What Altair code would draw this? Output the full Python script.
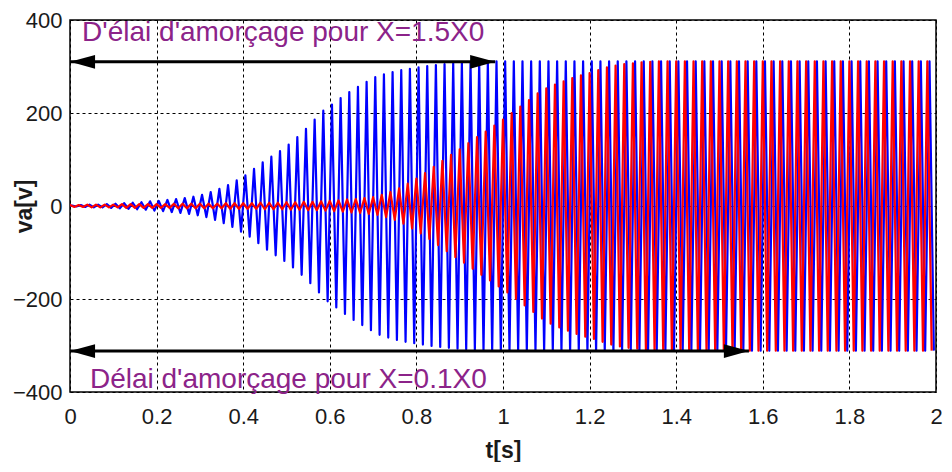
import altair as alt
import pandas as pd

# Peak amplitude of each 50 Hz cycle (100 cycles over 0..2 s)
blue_amp = [1, 2, 3, 3, 4, 5, 6, 7, 8, 10,
            11, 13, 15, 17, 20, 24, 30, 37, 45, 55,
            66, 80, 94, 106, 118, 132, 148, 166, 186, 205,
            218, 232, 245, 256, 267, 277, 283, 288, 292, 295,
            298, 301, 303, 305, 307, 308, 309, 310, 311, 311,
            311, 311, 311, 311, 311, 311, 311, 311, 311, 311,
            311, 311, 311, 311, 311, 311, 311, 311, 311, 311,
            311, 311, 311, 311, 311, 311, 311, 311, 311, 311,
            311, 311, 311, 311, 311, 311, 311, 311, 311, 311,
            311, 311, 311, 311, 311, 311, 311, 311, 311, 311]

red_amp = [2, 2, 3, 3, 3, 3, 4, 4, 4, 4,
           4, 4, 5, 5, 5, 5, 5, 5, 6, 6,
           6, 6, 7, 7, 7, 8, 8, 9, 9, 10,
           11, 12, 14, 15, 17, 19, 24, 30, 38, 48,
           59, 71, 84, 97, 110, 122, 135, 148, 160, 173,
           186, 200, 214, 228, 242, 253, 261, 268, 275, 281,
           286, 292, 298, 302, 305, 307, 309, 310, 311, 311,
           311, 311, 311, 311, 311, 311, 311, 311, 311, 311,
           311, 311, 311, 311, 311, 311, 311, 311, 311, 311,
           311, 311, 311, 311, 311, 311, 311, 311, 311, 311]

CYCLE = 0.02  # 50 Hz
blue_phase = 0.005
red_phase = 0.0

x_ticks = [0, 0.2, 0.4, 0.6, 0.8, 1, 1.2, 1.4, 1.6, 1.8, 2]
y_ticks = [-400, -200, 0, 200, 400]

arrow_y = [310, -312]
arrow_x_end = [0.982, 1.568]
label_texts = ["D'élai d'amorçage pour X=1.5X0", "Délai d'amorçage pour X=0.1X0"]
label_x = [0.028, 0.046]
label_y = [372, -374]


def zigzag(amps, phase):
    rows = [{"t": 0.0, "v": 0.0, "i": 0}]
    i = 1
    for k, a in enumerate(amps):
        rows.append({"t": k * CYCLE + phase, "v": a, "i": i}); i += 1
        rows.append({"t": k * CYCLE + CYCLE / 2 + phase, "v": -a, "i": i}); i += 1
    return pd.DataFrame(rows)


blue_df = zigzag(blue_amp, blue_phase)
red_df = zigzag(red_amp, red_phase)

xs = alt.Scale(domain=[0, 2], nice=False, zero=False)
ys = alt.Scale(domain=[-400, 400], nice=False, zero=False)

x_enc = alt.X("t:Q", scale=xs, axis=alt.Axis(values=x_ticks, title="t[s]", labelExpr="datum.value"))
y_enc = alt.Y("v:Q", scale=ys, axis=alt.Axis(values=y_ticks, title="va[v]", titleX=-46, titleY=186,
                                              titleAngle=270, titleAlign="center", titleBaseline="middle"))

blue = alt.Chart(blue_df).mark_line(color="#0000ff", strokeWidth=2.2, strokeJoin="round", clip=True).encode(
    x=x_enc, y=y_enc, order="i:Q")
red = alt.Chart(red_df).mark_line(color="#ff0000", strokeWidth=2.2, strokeJoin="round", clip=True).encode(
    x="t:Q", y="v:Q", order="i:Q")

arrows_df = pd.DataFrame({"x0": [0, 0], "x1": arrow_x_end, "y": arrow_y})
arrow_lines = alt.Chart(arrows_df).mark_rule(color="black", strokeWidth=3).encode(
    x="x0:Q", x2="x1:Q", y="y:Q")

left_heads = pd.DataFrame({"x": [0.029, 0.029], "y": arrow_y})
right_heads = pd.DataFrame({"x": [e - 0.029 for e in arrow_x_end], "y": arrow_y})
lh = alt.Chart(left_heads).mark_point(shape="M-1,0 L1,-0.55 L1,0.55 Z", size=625, filled=True,
                                       color="black", opacity=1).encode(x="x:Q", y="y:Q")
rh = alt.Chart(right_heads).mark_point(shape="M1,0 L-1,-0.55 L-1,0.55 Z", size=625, filled=True,
                                        color="black", opacity=1).encode(x="x:Q", y="y:Q")

labels_df = pd.DataFrame({"x": label_x, "y": label_y, "txt": label_texts})
labels = alt.Chart(labels_df).mark_text(align="left", baseline="middle", fontSize=28,
                                         font="Liberation Sans", color="#8c2389").encode(
    x="x:Q", y="y:Q", text="txt:N")

chart = alt.layer(blue, red, arrow_lines, lh, rh, labels).properties(
    width=866, height=372,
    autosize=alt.AutoSizeParams(type="none"),
    padding={"left": 62, "top": 12, "right": 8, "bottom": 70},
).configure_view(stroke="black", strokeWidth=1.5).configure_axis(
    grid=True, gridColor="black", gridDash=[3, 3], gridWidth=1, gridOpacity=1,
    domain=False, ticks=False, labelFont="Liberation Sans", labelColor="#1a1a1a",
    labelFontSize=22, labelFlush=False, titleFont="Liberation Sans", titleFontSize=23,
    titleFontWeight="bold", titleColor="#1a1a1a", zindex=1,
).configure_axisX(labelPadding=14, titlePadding=12).configure_axisY(labelPadding=8)

chart.save("out.html", embed_options={"renderer": "svg", "actions": False})
